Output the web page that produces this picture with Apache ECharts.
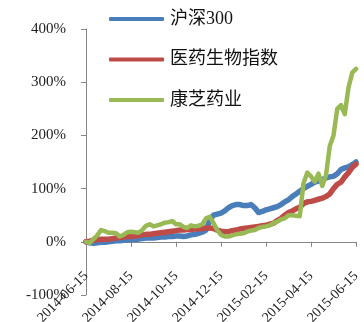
<!DOCTYPE html>
<html>
<head>
<meta charset="utf-8">
<script src="https://cdn.jsdelivr.net/npm/echarts@6/dist/echarts.min.js"></script>
<style>
html,body{margin:0;padding:0;background:#fff;}
#c{width:364px;height:322px;}
</style>
</head>
<body>
<div id="c"></div>
<script>
var categories = [
'2014-06-15','2014-06-20','2014-06-25','2014-06-30','2014-07-05','2014-07-10',
'2014-07-15','2014-07-20','2014-07-25','2014-07-30','2014-08-05','2014-08-10',
'2014-08-15','2014-08-20','2014-08-25','2014-08-30','2014-09-05','2014-09-10',
'2014-09-15','2014-09-20','2014-09-25','2014-09-30','2014-10-05','2014-10-10',
'2014-10-15','2014-10-20','2014-10-25','2014-10-30','2014-11-05','2014-11-10',
'2014-11-15','2014-11-20','2014-11-25','2014-11-30','2014-12-05','2014-12-10',
'2014-12-15','2014-12-20','2014-12-25','2014-12-30','2015-01-05','2015-01-10',
'2015-01-15','2015-01-20','2015-01-25','2015-01-30','2015-02-05','2015-02-10',
'2015-02-15','2015-02-20','2015-02-25','2015-02-28','2015-03-05','2015-03-10',
'2015-03-15','2015-03-20','2015-03-25','2015-03-30','2015-04-05','2015-04-10',
'2015-04-15','2015-04-20','2015-04-25','2015-04-30','2015-05-05','2015-05-10',
'2015-05-15','2015-05-20','2015-05-25','2015-05-30','2015-06-05','2015-06-10',
'2015-06-15'
];
var seriesNames = ['沪深300', '医药生物指数', '康芝药业'];
var hs300 = [0,-2,-3,-2,-1,-1, 0,1,2,2,3,4, 4,5,5,6,7,7, 7,8,9,9,10,10, 11,11,10,11,13,14,
  16,18,22,40,50,52, 54,58,64,68,70,70, 68,68,70,64,55,57, 60,62,64,66,70,75,
  79,85,90,95,100,104, 108,112,114,117,120,122, 123,128,136,139,141,145, 150];
var pharma = [0,1,3,4,5,5, 5,6,7,8,9,10, 10,11,12,13,14,14, 15,16,17,18,19,20, 21,22,22,23,23,24,
  24,25,26,26,25,22, 20,19,19,21,22,24, 25,26,27,28,29,30, 31,33,35,40,44,50,
  55,58,62,65,72,75, 76,78,80,82,85,90, 100,108,112,122,130,140, 146];
var kangzhi = [0,-2,5,12,22,20, 17,17,16,10,13,18, 19,18,17,22,30,33, 29,31,33,36,37,39, 33,33,28,26,31,29,
  30,33,44,47,35,22, 13,10,10,12,14,15, 16,19,21,22,26,28, 29,31,35,38,42,44,
  50,50,49,48,110,130, 123,113,128,105,125,180, 200,250,257,240,290,318, 325];
var yTicks = {min: -100, max: 400, interval: 100};
var colors = ['#4A7EBB', '#BE4B48', '#98B954'];

var chart = echarts.init(document.getElementById('c'), null, {renderer: 'canvas'});
var serifFont = '"Liberation Serif", "Times New Roman", "Noto Sans CJK SC", serif';
var data = [hs300, pharma, kangzhi];
chart.setOption({
  animation: false,
  backgroundColor: '#fff',
  color: colors,
  grid: {left: 86, right: 8, top: 29, bottom: 27, containLabel: false, outerBoundsMode: 'none'},
  legend: {
    orient: 'vertical',
    left: 104,
    top: 4,
    itemWidth: 55,
    itemHeight: 4,
    itemGap: 20.5,
    icon: 'roundRect',
    textStyle: {fontFamily: serifFont, fontSize: 18, color: '#111', lineHeight: 20, padding: [0,0,0,1]},
    data: seriesNames
  },
  xAxis: [{
    type: 'category',
    data: categories,
    boundaryGap: false,
    position: 'bottom',
    axisLine: {onZero: true, lineStyle: {color: '#868686', width: 1}},
    axisTick: {show: true, interval: 11, length: 5, lineStyle: {color: '#868686'}},
    axisLabel: {show: false}
  }, {
    type: 'category',
    data: categories,
    boundaryGap: false,
    position: 'bottom',
    axisLine: {show: false, onZero: false},
    axisTick: {show: false},
    splitLine: {show: false},
    axisLabel: {interval: 11, rotate: 45, margin: -21, fontFamily: serifFont, fontSize: 14, color: '#222', showMinLabel: true, showMaxLabel: true, hideOverlap: false}
  }],
  yAxis: {
    type: 'value',
    min: yTicks.min, max: yTicks.max, interval: yTicks.interval,
    axisLine: {show: true, onZero: false, lineStyle: {color: '#868686', width: 1}},
    axisTick: {show: true, length: 5, lineStyle: {color: '#868686'}},
    splitLine: {show: false},
    axisLabel: {formatter: '{value}%', margin: 20, fontFamily: serifFont, fontSize: 15, color: '#222'}
  },
  series: seriesNames.map(function (n, i) {
    return {
      name: n,
      type: 'line',
      xAxisIndex: 0,
      data: data[i],
      showSymbol: false,
      symbol: 'none',
      lineStyle: {width: i === 2 ? 4.5 : 5.5, color: colors[i], join: 'round', cap: 'round'},
      z: 2 + i
    };
  })
});
</script>
</body>
</html>
